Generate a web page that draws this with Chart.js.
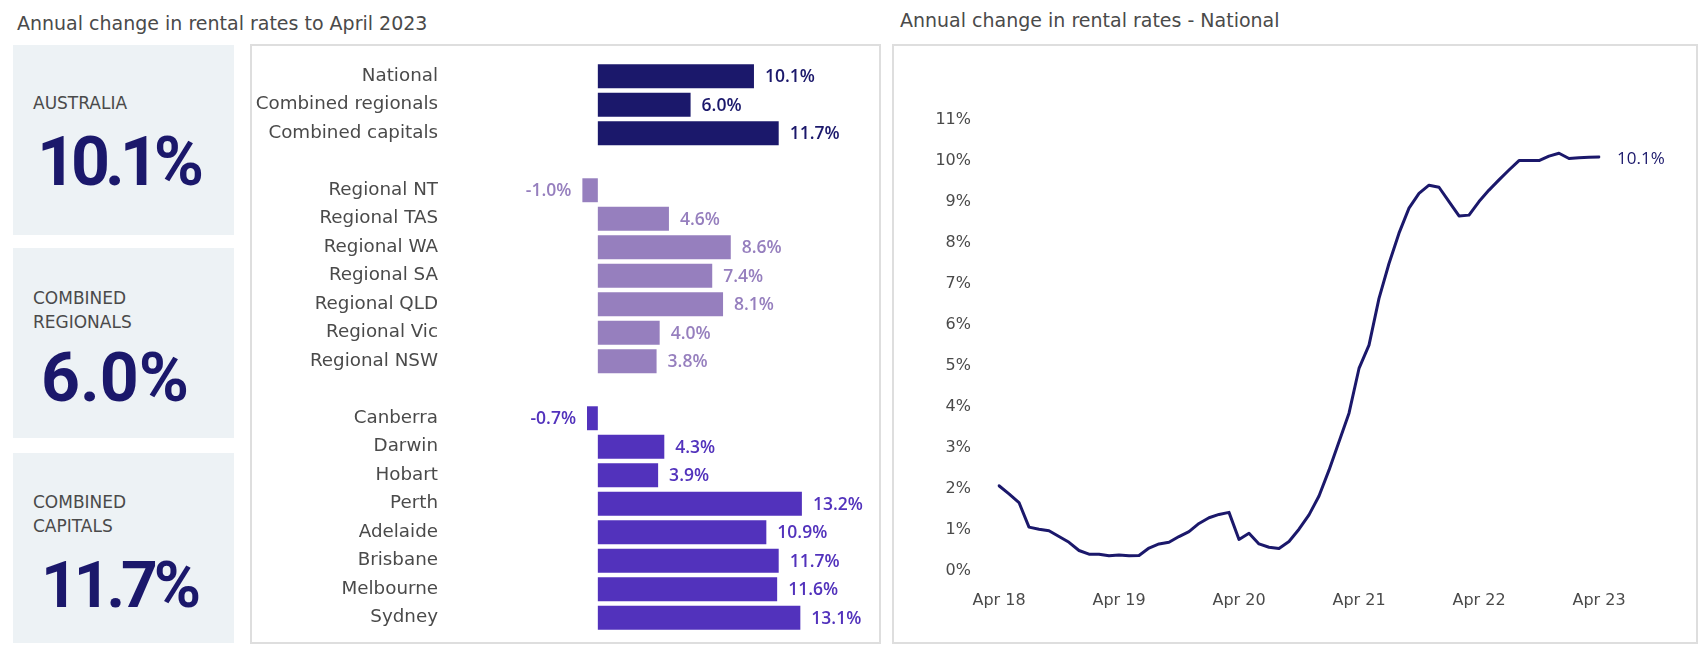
<!DOCTYPE html>
<html lang="en">
<head>
    <meta charset="UTF-8">
    <title>Annual change in rental rates</title>
    <script src="https://cdn.jsdelivr.net/npm/chart.js"></script>
    <style>
        body { margin: 0; width: 1706px; height: 653px; background: #fff; font-family: "DejaVu Sans", sans-serif; color: #4a4a4a; position: relative; overflow: hidden; }
        .title { position: absolute; font-size: 19px; line-height: 22px; white-space: nowrap; }
        .box { position: absolute; left: 13px; width: 221px; height: 190px; background: #edf2f5; }
        .box .lbl { position: absolute; left: 20px; font-size: 17px; line-height: 24px; color: #4a4a4a; }
        .box .big { position: absolute; left: 28px; font-family: Roboto, sans-serif; font-size: 68px; font-weight: 700; color: #1b186b; letter-spacing: -5px; line-height: 70px; }
        .panel { position: absolute; top: 44px; height: 600px; box-sizing: border-box; border: 2px solid #dedede; }
        .wrap { position: absolute; }
    </style>
</head>
<body>
    <div class="title" style="left:17px; top:12px;">Annual change in rental rates to April 2023</div>
    <div class="title" style="left:900px; top:9px;">Annual change in rental rates - National</div>

    <div class="box" style="top:45px;">
        <div class="lbl" style="top:46px;">AUSTRALIA</div>
        <div class="big" style="top:82px; left:24px;">10.1%</div>
    </div>
    <div class="box" style="top:248px;">
        <div class="lbl" style="top:38px;">COMBINED<br>REGIONALS</div>
        <div class="big" style="top:95px; letter-spacing:0;">6.0%</div>
    </div>
    <div class="box" style="top:453px;">
        <div class="lbl" style="top:37px;">COMBINED<br>CAPITALS</div>
        <div class="big" style="top:98px; font-size:64px; letter-spacing:-4px;">11.7%</div>
    </div>

    <div class="panel" style="left:250px; width:631px;"></div>
    <div class="panel" style="left:892px; width:806px;"></div>

    <div class="wrap" style="left:250px; top:44px; width:631px; height:600px;"><canvas id="barChart"></canvas></div>
    <div class="wrap" style="left:892px; top:44px; width:806px; height:600px;"><canvas id="lineChart"></canvas></div>

    <script>
        // bar panel data (blank entries are the gaps between groups)
        const barCategories = ['National', 'Combined regionals', 'Combined capitals', '',
            'Regional NT', 'Regional TAS', 'Regional WA', 'Regional SA', 'Regional QLD', 'Regional Vic', 'Regional NSW', '',
            'Canberra', 'Darwin', 'Hobart', 'Perth', 'Adelaide', 'Brisbane', 'Melbourne', 'Sydney'];
        const barValues = [10.1, 6.0, 11.7, null,
            -1.0, 4.6, 8.6, 7.4, 8.1, 4.0, 3.8, null,
            -0.7, 4.3, 3.9, 13.2, 10.9, 11.7, 11.6, 13.1];
        const barGroups = ['summary', 'summary', 'summary', null,
            'regional', 'regional', 'regional', 'regional', 'regional', 'regional', 'regional', null,
            'capital', 'capital', 'capital', 'capital', 'capital', 'capital', 'capital', 'capital'];

        // national annual change, monthly Apr 18 .. Apr 23
        const nationalValues = [
            2.08, 1.88, 1.67, 1.07, 1.02, 0.98, 0.84, 0.70, 0.50, 0.41, 0.41, 0.37,
            0.39, 0.37, 0.38, 0.56, 0.66, 0.70, 0.84, 0.96, 1.16, 1.30, 1.38, 1.43,
            0.77, 0.92, 0.66, 0.58, 0.55, 0.72, 1.02, 1.37, 1.83, 2.46, 3.15, 3.85,
            4.94, 5.51, 6.65, 7.50, 8.24, 8.85, 9.21, 9.41, 9.36, 9.01, 8.66, 8.68,
            9.01, 9.29, 9.54, 9.78, 10.01, 10.01, 10.01, 10.12, 10.19, 10.06, 10.08, 10.09,
            10.10];
        const monthNames = ['Apr', 'May', 'Jun', 'Jul', 'Aug', 'Sep', 'Oct', 'Nov', 'Dec', 'Jan', 'Feb', 'Mar'];
        const yTicks = [0, 1, 2, 3, 4, 5, 6, 7, 8, 9, 10, 11];

        const months = nationalValues.map((v, i) => {
            const yr = 18 + Math.floor((i + 3) / 12);
            return monthNames[i % 12] + ' ' + yr;
        });

        const groupColors = { summary: '#1b186b', regional: '#967fbe', capital: '#5232bc' };
        const textColor = '#4a4a4a';
        Chart.defaults.font.family = '"DejaVu Sans", sans-serif';
        Chart.defaults.font.size = 16;
        Chart.defaults.color = textColor;

        // draws value text next to each bar end
        const barLabels = {
            id: 'barLabels',
            afterDatasetsDraw(chart) {
                const ctx = chart.ctx;
                const meta = chart.getDatasetMeta(0);
                ctx.save();
                ctx.font = '600 17.5px "Open Sans", sans-serif';
                ctx.textBaseline = 'middle';
                meta.data.forEach((bar, i) => {
                    const v = barValues[i];
                    if (v === null) return;
                    ctx.fillStyle = groupColors[barGroups[i]];
                    const txt = v.toFixed(1) + '%';
                    if (v >= 0) {
                        ctx.textAlign = 'left';
                        ctx.fillText(txt, bar.x + 11, bar.y + 1);
                    } else {
                        ctx.textAlign = 'right';
                        ctx.fillText(txt, bar.x - 11, bar.y + 1);
                    }
                });
                ctx.restore();
            }
        };

        new Chart(document.getElementById('barChart'), {
            type: 'bar',
            data: {
                labels: barCategories,
                datasets: [{
                    data: barValues,
                    backgroundColor: barGroups.map(g => g ? groupColors[g] : 'transparent'),
                    barPercentage: 0.84,
                    categoryPercentage: 1
                }]
            },
            options: {
                indexAxis: 'y',
                responsive: true,
                maintainAspectRatio: false,
                animation: false,
                layout: { padding: { top: 18, bottom: 12, right: 8, left: 0 } },
                plugins: { legend: { display: false }, tooltip: { enabled: false } },
                scales: {
                    x: { display: false, min: -4, max: 17.8 },
                    y: {
                        grid: { display: false, drawTicks: false },
                        border: { display: false },
                        ticks: { padding: 98, color: textColor, autoSkip: false, font: { size: 18.3 } },
                        afterFit(scale) {
                            scale.width = 286;
                            // tick padding should only push labels sideways
                            scale.paddingTop = 0;
                            scale.paddingBottom = 0;
                        }
                    }
                }
            },
            plugins: [barLabels]
        });

        // label at the end of the national line
        const endLabel = {
            id: 'endLabel',
            afterDatasetsDraw(chart) {
                const meta = chart.getDatasetMeta(0);
                const last = meta.data[meta.data.length - 1];
                const ctx = chart.ctx;
                ctx.save();
                ctx.font = '500 17px "Open Sans", sans-serif';
                ctx.fillStyle = '#1b186b';
                ctx.textBaseline = 'middle';
                ctx.textAlign = 'left';
                ctx.fillText(nationalValues[nationalValues.length - 1].toFixed(1) + '%', last.x + 18, last.y + 2);
                ctx.restore();
            }
        };

        new Chart(document.getElementById('lineChart'), {
            type: 'line',
            data: {
                labels: months,
                datasets: [{
                    data: nationalValues,
                    borderColor: '#1b186b',
                    borderWidth: 3,
                    pointRadius: 0,
                    tension: 0,
                    borderJoinStyle: 'round',
                    borderCapStyle: 'round'
                }]
            },
            options: {
                responsive: true,
                maintainAspectRatio: false,
                animation: false,
                layout: { padding: { top: 76, right: 99, bottom: 0, left: 0 } },
                plugins: { legend: { display: false }, tooltip: { enabled: false } },
                scales: {
                    x: {
                        grid: { display: false, drawTicks: false },
                        border: { display: false },
                        ticks: {
                            autoSkip: false,
                            maxRotation: 0,
                            padding: 20,
                            color: textColor,
                            callback: (v, i) => (i % 12 === 0 ? months[i] : null)
                        },
                        afterFit(scale) { scale.height = 73; }
                    },
                    y: {
                        min: 0,
                        max: 11,
                        grid: { display: false, drawTicks: false },
                        border: { display: false },
                        afterBuildTicks(scale) { scale.ticks = yTicks.map(v => ({ value: v })); },
                        ticks: { padding: 28, color: textColor, callback: v => v + '%' },
                        afterFit(scale) { scale.width = 107; }
                    }
                }
            },
            plugins: [endLabel]
        });
    </script>
</body>
</html>
